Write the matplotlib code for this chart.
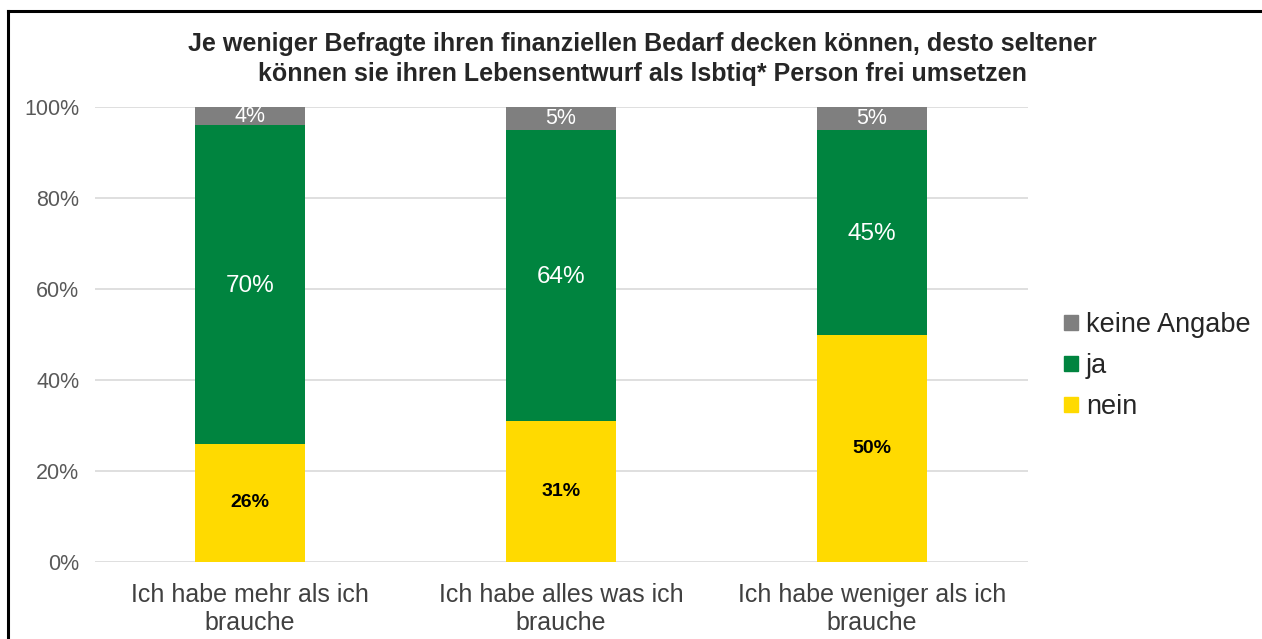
import numpy as np
import matplotlib
matplotlib.use('Agg')
import matplotlib.pyplot as plt
from matplotlib.patches import Patch
from matplotlib.lines import Line2D

plt.rcParams['font.family'] = ['Liberation Sans', 'DejaVu Sans']

# data
categories = ["Ich habe mehr als ich\nbrauche",
              "Ich habe alles was ich\nbrauche",
              "Ich habe weniger als ich\nbrauche"]
nein = [26, 31, 50]
ja = [70, 64, 45]
keine_angabe = [4, 5, 5]
yticks = [0, 20, 40, 60, 80, 100]

c_nein = '#ffda00'
c_ja = '#00843f'
c_keine = '#7f7f7f'

W, H = 1262, 639
fig = plt.figure(figsize=(W / 100, H / 100), dpi=100, facecolor='white')
ax = fig.add_axes([94.5 / W, 77 / H, 933 / W, 455 / H])

x = np.arange(len(categories))
bw = 0.354
nein = np.array(nein)
ja = np.array(ja)
keine_angabe = np.array(keine_angabe)

ax.bar(x, nein, bw, color=c_nein, zorder=3)
ax.bar(x, ja, bw, bottom=nein, color=c_ja, zorder=3)
ax.bar(x, keine_angabe, bw, bottom=nein + ja, color=c_keine, zorder=3)

for i in range(len(x)):
    ax.text(x[i], nein[i] / 2, f"{nein[i]}%", ha='center', va='center',
            fontsize=14, fontweight='bold', color='black', zorder=4)
    ax.text(x[i], nein[i] + ja[i] / 2 - 0.4, f"{ja[i]}%", ha='center', va='center',
            fontsize=17.5, color='white', zorder=4)
    ax.text(x[i], nein[i] + ja[i] + keine_angabe[i] / 2, f"{keine_angabe[i]}%",
            ha='center', va='center', fontsize=15.5, color='white', zorder=4)

ax.set_xlim(-0.5, 2.5)
ax.set_ylim(0, 100)
ax.set_yticks(yticks)
ax.set_yticklabels([f"{v}%" for v in yticks], fontsize=15.5, color='#595959')
ax.set_xticks(x)
ax.set_xticklabels(categories, fontsize=18, color='#404040', linespacing=1.22)
ax.tick_params(length=0)
ax.tick_params(axis='y', pad=11)
ax.tick_params(axis='x', pad=15)
ax.grid(axis='y', color='#d9d9d9', linewidth=1.2, zorder=0)
for s in ax.spines.values():
    s.set_visible(False)

fig.text(642 / W, 1 - 59 / H,
         "Je weniger Befragte ihren finanziellen Bedarf decken können, desto seltener\n"
         "können sie ihren Lebensentwurf als lsbtiq* Person frei umsetzen",
         ha='center', va='center', fontsize=18, fontweight='bold',
         color='#262626', linespacing=1.3)

handles = [Patch(color=c_keine, label='keine Angabe'),
           Patch(color=c_ja, label='ja'),
           Patch(color=c_nein, label='nein')]
fig.legend(handles=handles, loc='center left', bbox_to_anchor=(1040 / W, 1 - 366 / H),
           frameon=False, fontsize=19.5, handlelength=0.5, handleheight=0.5,
           handletextpad=0.3, labelspacing=0.55, labelcolor='#262626')

# outer border (top and left visible)
fig.add_artist(Line2D([8 / W, 8 / W], [0, 1 - 11 / H], color='black', lw=2.2,
                      transform=fig.transFigure))
fig.add_artist(Line2D([8 / W, 1], [1 - 11 / H, 1 - 11 / H], color='black', lw=2.2,
                      transform=fig.transFigure))

fig.savefig('out.png', dpi=100, facecolor='white')
